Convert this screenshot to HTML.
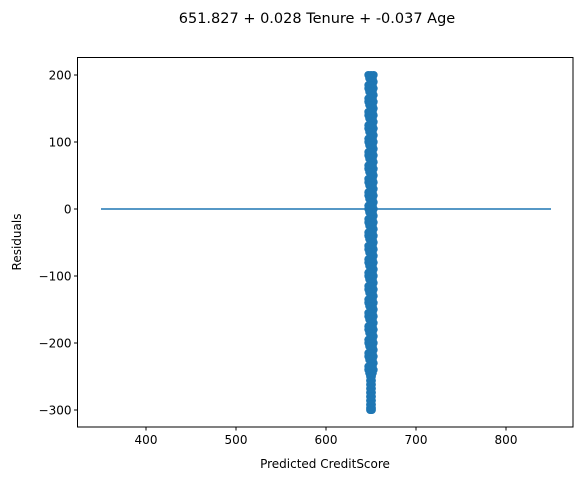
<!DOCTYPE html>
<html><head><meta charset="utf-8"><style>
body{margin:0;background:#fff;font-family:"Liberation Sans","DejaVu Sans",sans-serif;}
svg text{font-family:"DejaVu Sans","Liberation Sans",sans-serif;fill:#000;}
</style></head><body>
<svg id="chart" width="583" height="480" viewBox="0 0 583 480" xmlns="http://www.w3.org/2000/svg">
<rect width="583" height="480" fill="#fff"/>
<text x="317" y="23" font-size="14.5" text-anchor="middle">651.827 + 0.028 Tenure + -0.037 Age</text>
<g id="marks"></g>
<g id="axes"></g>
<text x="325" y="468" font-size="12" text-anchor="middle">Predicted CreditScore</text>
<text x="21" y="242" font-size="12" text-anchor="middle" transform="rotate(-90 21 242)">Residuals</text>
</svg>
<script>
const xTicks=[400,500,600,700,800];
const yTicks=[200,100,0,-100,-200,-300];
const predicted=[647,650,653,649,652,648,651,650,653,647,652,649];
const residuals=[200,195,190,185,180,175,170,165,160,155,150,145,140,135,130,125,120,115,110,105,100,95,90,85,80,75,70,65,60,55,50,45,40,35,30,25,20,15,10,5,0,-5,-10,-15,-20,-25,-30,-35,-40,-45,-50,-55,-60,-65,-70,-75,-80,-85,-90,-95,-100,-105,-110,-115,-120,-125,-130,-135,-140,-145,-150,-155,-160,-165,-170,-175,-180,-185,-190,-195,-200,-205,-210,-215,-220,-225,-230,-235,-240,-245,-250,-256,-262,-268,-274,-280,-286,-292,-297,-300];
const lineX=[350,850];
const lineY=[0,0];
const L=77.5,R=573,T=57.5,B=427;
const xs=v=>416+(v-700)*0.9;
const ys=v=>209-v*0.67;
const NS="http://www.w3.org/2000/svg";
const marks=document.getElementById('marks'),axes=document.getElementById('axes');
function mk(tag,attrs,parent){const e=document.createElementNS(NS,tag);for(const k in attrs)e.setAttribute(k,attrs[k]);parent.appendChild(e);return e;}
for(let i=0;i<residuals.length;i++){
 for(let k=0;k<3;k++){
  const r=residuals[i];
  let p=predicted[(i*3+k)%predicted.length];
  if(r<-245) p=650+(k-1);
  const c=mk('circle',{cx:xs(p),cy:ys(r),r:4,fill:'#1f77b4'},marks);
  
  
 }
}
const ln=mk('line',{x1:xs(lineX[0]),y1:ys(lineY[0]),x2:xs(lineX[1]),y2:ys(lineY[1]),stroke:'#1f77b4','stroke-width':1.5},marks);


const fr=mk('rect',{x:L,y:T,width:R-L,height:B-T,fill:'none',stroke:'#000','stroke-width':1},axes);


xTicks.forEach(v=>{const x=xs(v);
 mk('line',{x1:x,y1:B,x2:x,y2:B+3.5,stroke:'#000'},axes);
 const t=mk('text',{x:x,y:B+17,'font-size':12,'text-anchor':'middle'},axes);t.textContent=v;
 
 
});
yTicks.forEach(v=>{const y=ys(v);
 mk('line',{x1:L-3.5,y1:y,x2:L,y2:y,stroke:'#000'},axes);
 const t=mk('text',{x:L-6,y:y+4.5,'font-size':12,'text-anchor':'end'},axes);t.textContent=(v<0?'\u2212'+(-v):v);
 
 
});
</script>
</body></html>
